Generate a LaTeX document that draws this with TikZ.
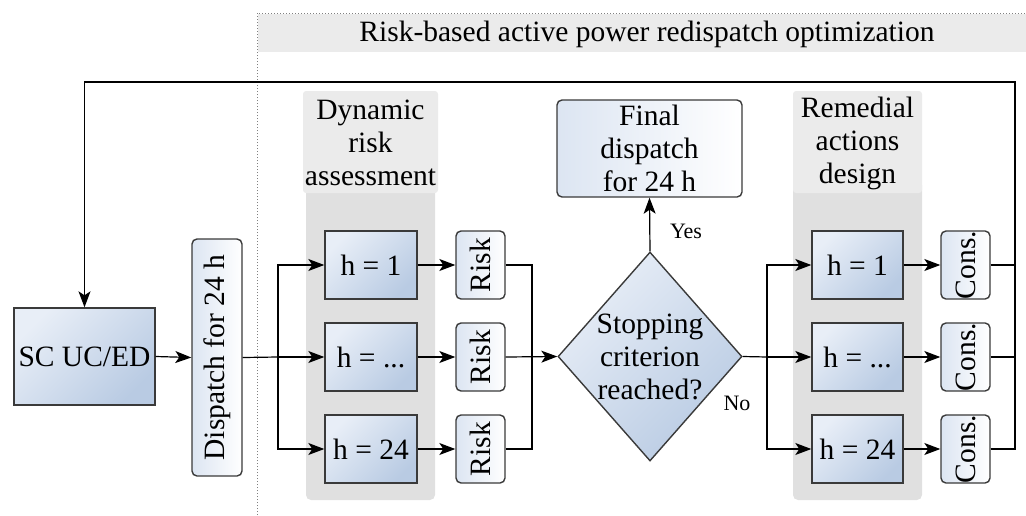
\documentclass[tikz,border=0pt]{standalone}
\usepackage{fontspec}
\setmainfont{Liberation Serif}
\usetikzlibrary{arrows.meta,shapes.geometric}
\definecolor{hdrgray}{HTML}{EBEBEB}
\definecolor{pangray}{HTML}{E0E0E0}
\definecolor{bordr}{HTML}{3A3A3A}
\definecolor{blight}{HTML}{E8EEF7}
\definecolor{bdark}{HTML}{B9CBE3}
\definecolor{bpale}{HTML}{DCE5F2}
\tikzset{
  arr/.style={-{Stealth[length=16pt,width=12pt,inset=4pt]}},
  conn/.style={line width=1.2pt, black},
  txt/.style={font=\fontsize{29.5}{33}\selectfont, align=center},
  darkbox/.style={draw=bordr, line width=1.4pt, top color=blight, bottom color=bdark, shading angle=45, txt, inner sep=0pt},
  palebox/.style={draw=bordr, line width=1.4pt, rounded corners=5pt, left color=bpale, right color=white, txt, inner sep=0pt},
  panel/.style={fill=pangray, rounded corners=5pt},
  header/.style={fill=hdrgray, rounded corners=3pt},
}
\begin{document}
\begin{tikzpicture}[x=1pt,y=-1pt]
\useasboundingbox (0,0) rectangle (1026,515);
% outer region
\fill[hdrgray] (258,14) rectangle (1026,52);
\draw[gray, dotted, line width=1pt] (257,515) -- (257,13) -- (1026,13);
\node[txt] (title) at (647,34) {Risk-based active power redispatch optimization};
% panels
\fill[panel] (306,180) rectangle (435,500);
\fill[header] (303,91) rectangle (438,193);
\fill[panel] (793,180) rectangle (922,500);
\fill[header] (793,91) rectangle (922,193);
\node[txt] (dra) at (370.5,143) {Dynamic\\risk\\assessment};
\node[txt] (rad) at (857.5,143) {Remedial\\actions\\design};
% main nodes
\node[darkbox, minimum width=141pt, minimum height=97pt] (sc) at (84.5,356.5) {SC UC/ED};
\node[palebox, minimum width=50pt, minimum height=237pt] (disp) at (217,357.5) {\rotatebox{90}{Dispatch for 24 h}};
\foreach \i/\y/\t in {1/265/{h = 1},2/357/{h = ...},3/449/{h = 24}}{
  \node[darkbox, minimum width=92pt, minimum height=68pt] (ha\i) at (371,\y) {\t};
  \node[palebox, minimum width=49pt, minimum height=68pt] (risk\i) at (480.5,\y) {\rotatebox{90}{Risk}};
  \node[darkbox, minimum width=91pt, minimum height=68pt] (hb\i) at (857.5,\y) {\t};
  \node[palebox, minimum width=49pt, minimum height=67pt] (cons\i) at (965.5,\y) {\rotatebox{90}{Cons.}};
}
\node[diamond, aspect=0.88, draw=bordr, line width=1.4pt, top color=blight, bottom color=bdark, shading angle=45, minimum width=184pt, minimum height=209pt, inner sep=0pt] (dia) at (650,356.5) {};
\node[txt] (diatxt) at (650,356.5) {Stopping\\criterion\\reached?};
\node[palebox, minimum width=185pt, minimum height=97pt] (final) at (649.5,148.5) {Final\\dispatch\\for 24 h};
% helper coordinates
\coordinate (s1) at (278,357);
\coordinate (j1) at (532,357);
\coordinate (s2) at (767,357);
\coordinate (fbr) at (1015,82);
% connectors
\draw[conn, arr] (sc.east) -- (disp.west);
\draw[conn] (disp.east) -- (s1);
\draw[conn, arr] (s1) |- (ha1.west);
\draw[conn, arr] (s1) -- (ha2.west);
\draw[conn, arr] (s1) |- (ha3.west);
\foreach \i in {1,2,3}{
  \draw[conn, arr] (ha\i.east) -- (risk\i.west);
  \draw[conn, arr] (hb\i.east) -- (cons\i.west);
}
\draw[conn] (risk1.east) -| (j1);
\draw[conn] (risk3.east) -| (j1);
\draw[conn, arr] (risk2.east) -- (dia.west);
\draw[conn, arr] (dia.north) -- (final.south);
\node[font=\fontsize{22}{24}\selectfont] (yes) at (686,231) {Yes};
\draw[conn] (dia.east) -- (s2);
\draw[conn, arr] (s2) |- (hb1.west);
\draw[conn, arr] (s2) -- (hb2.west);
\draw[conn, arr] (s2) |- (hb3.west);
\node[font=\fontsize{22}{24}\selectfont] (no) at (737,403) {No};
\draw[conn] (cons1.east) -- (cons1.east -| fbr);
\draw[conn] (cons2.east) -- (cons2.east -| fbr);
\draw[conn, arr] (cons3.east) -| (fbr) -| (sc.north);
\end{tikzpicture}
\end{document}
